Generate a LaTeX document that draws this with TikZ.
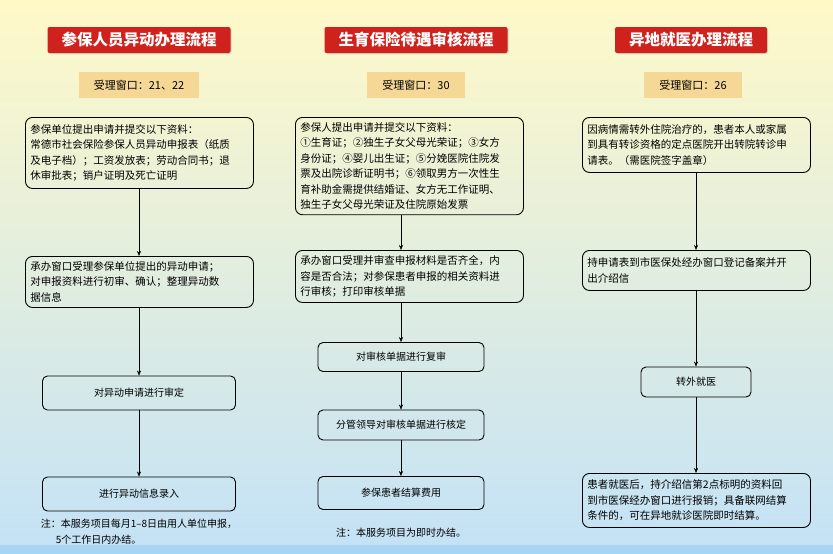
\documentclass[tikz,border=0pt]{standalone}
\usepackage{fontspec}
\setmainfont{Noto Sans CJK SC}
\usetikzlibrary{arrows.meta,shadows}
\definecolor{titlered}{RGB}{208,34,28}
\definecolor{winfill}{RGB}{246,216,150}
\definecolor{bgtop}{RGB}{255,249,200}
\definecolor{bgbot}{RGB}{196,226,246}
\definecolor{stripblue}{RGB}{168,214,242}
\tikzset{
  titlebox/.style={fill=titlered, text=white, font=\bfseries\fontsize{15.5}{16}\selectfont, rounded corners=2pt, minimum height=26pt, inner xsep=14pt, drop shadow={opacity=0.25, shadow xshift=1pt, shadow yshift=-1pt}},
  winbox/.style={fill=winfill, font=\fontsize{11}{11}\selectfont, minimum height=26pt, inner xsep=15pt},
  stepbox/.style={draw, line width=0.9pt, rounded corners=7pt, align=left, font=\fontsize{10.5}{15.5}\selectfont, inner xsep=5pt, inner ysep=5pt, anchor=north west, minimum width=228pt, text width=218pt},
  midbox/.style={draw, line width=0.9pt, rounded corners=5pt, align=center, font=\fontsize{10}{12}\selectfont},
  notetext/.style={font=\fontsize{10}{16}\selectfont, align=left}
}
\begin{document}
\begin{tikzpicture}[x=1pt, y=-1pt, >={Stealth[length=5pt,width=4pt]}]
  \useasboundingbox (0,0) rectangle (833,554);
  % background
  \shade[top color=bgtop, bottom color=bgbot] (0,0) rectangle (833,545);
  \fill[stripblue] (0,545) rectangle (833,554);
  % titles and windows
  \node[titlebox] (t1) at (139,40) {参保人员异动办理流程};
  \node[titlebox] (t2) at (416,40) {生育保险待遇审核流程};
  \node[titlebox] (t3) at (691,40) {异地就医办理流程};
  \node[winbox] (w1) at (139,85) {受理窗口：21、22};
  \node[winbox] (w2) at (416,85) {受理窗口：30};
  \node[winbox] (w3) at (693,85) {受理窗口：26};
  % column 1
  \node[stepbox, minimum height=71pt] (a1) at (25,117) {参保单位提出申请并提交以下资料：\\常德市社会保险参保人员异动申报表（纸质\\及电子档）；工资发放表；劳动合同书；退\\休审批表；销户证明及死亡证明};
  \node[stepbox, minimum height=51pt] (a2) at (25,256) {承办窗口受理参保单位提出的异动申请；\\对申报资料进行初审、确认；整理异动数\\据信息};
  \node[midbox, minimum width=193pt, minimum height=34pt] (a3) at (139,393) {对异动申请进行审定};
  \node[midbox, minimum width=193pt, minimum height=34pt] (a4) at (139,494) {进行异动信息录入};
  \node[notetext] (n1) at (139,532) {注：本服务项目每月1–8日由用人单位申报，\\\hspace*{1.5em}5个工作日内办结。};
  % column 2
  \node[stepbox, minimum height=96pt] (b1) at (295,117) {参保人提出申请并提交以下资料：\\①生育证；②独生子女父母光荣证；③女方\\身份证；④婴儿出生证；⑤分娩医院住院发\\票及出院诊断证明书；⑥领取男方一次性生\\育补助金需提供结婚证、女方无工作证明、\\独生子女父母光荣证及住院原始发票};
  \node[stepbox, minimum height=52pt] (b2) at (295,250) {承办窗口受理并审查申报材料是否齐全，内\\容是否合法；对参保患者申报的相关资料进\\行审核；打印审核单据};
  \node[midbox, minimum width=166pt, minimum height=29pt] (b3) at (401,357) {对审核单据进行复审};
  \node[midbox, minimum width=166pt, minimum height=30pt] (b4) at (401,425) {分管领导对审核单据进行核定};
  \node[midbox, minimum width=166pt, minimum height=33pt] (b5) at (401,493) {参保患者结算费用};
  \node[notetext] (n2) at (401,533) {注：本服务项目为即时办结。};
  % column 3
  \node[stepbox, minimum height=55pt] (c1) at (582,117) {因病情需转外住院治疗的，患者本人或家属\\到具有转诊资格的定点医院开出转院转诊申\\请表。（需医院签字盖章）};
  \node[stepbox, minimum height=40pt] (c2) at (582,250) {持申请表到市医保处经办窗口登记备案并开\\出介绍信};
  \node[midbox, minimum width=110pt, minimum height=30pt] (c3) at (696,382) {转外就医};
  \node[stepbox, minimum height=54pt] (c4) at (582,473) {患者就医后，持介绍信第2点标明的资料回\\到市医保经办窗口进行报销；具备联网结算\\条件的，可在异地就诊医院即时结算。};
  % connectors
  \draw[->] (a1.south -| a3) -- (a2.north -| a3);
  \draw[->] (a2.south -| a3) -- (a3);
  \draw[->] (a3) -- (a4);
  \draw[->] (b1.south -| b3) -- (b2.north -| b3);
  \draw[->] (b2.south -| b3) -- (b3);
  \draw[->] (b3) -- (b4);
  \draw[->] (b4) -- (b5);
  \draw[->] (c1.south -| c3) -- (c2.north -| c3);
  \draw[->] (c2.south -| c3) -- (c3);
  \draw[->] (c3) -- (c4.north -| c3);
\end{tikzpicture}
\end{document}
